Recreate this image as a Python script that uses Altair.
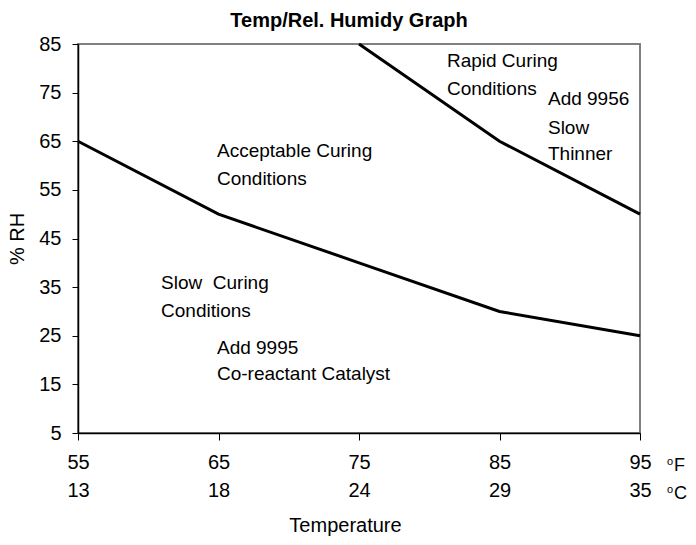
import altair as alt
import pandas as pd

# ---- data ----
temp_f = [55, 65, 75, 85, 95]
temp_c = [13, 18, 24, 29, 35]
lower_rh = [65, 50, 40, 30, 25]
upper_temp = [75, 85, 95]
upper_rh = [85, 65, 50]
y_ticks = [5, 15, 25, 35, 45, 55, 65, 75, 85]

note_text = ["Rapid Curing", "Conditions", "Add 9956", "Slow", "Thinner",
             "Acceptable Curing", "Conditions", "Slow\u00a0 Curing", "Conditions",
             "Add 9995", "Co-reactant Catalyst"]
note_x = [81.26, 81.26, 88.45, 88.45, 88.45, 64.89, 64.89, 60.91, 60.91, 64.89, 64.89]
note_y = [80.27, 74.51, 72.45, 66.49, 61.14, 61.76, 56.0, 34.61, 28.86, 21.25, 15.9]

unit_letters = ["F", "C"]

FONT = "Liberation Sans"

lines_df = pd.DataFrame(
    {"temp": temp_f + upper_temp,
     "rh": lower_rh + upper_rh,
     "series": ["lower"] * len(temp_f) + ["upper"] * len(upper_temp)}
)
notes_df = pd.DataFrame({"x": note_x, "y": note_y, "t": note_text})
unit_f = pd.DataFrame({"x": [temp_f[-1]], "y": [y_ticks[0]], "u": [unit_letters[0]]})
unit_c = pd.DataFrame({"x": [temp_f[-1]], "y": [y_ticks[0]], "u": [unit_letters[1]]})

label_expr = " : ".join(
    f"datum.value == {f} ? ['{f}', '{c}']" for f, c in zip(temp_f, temp_c)
) + " : datum.label"

xs = alt.Scale(domain=[55, 95], nice=False, zero=False)
ys = alt.Scale(domain=[5, 85], nice=False, zero=False)

x_axis = alt.Axis(values=temp_f, tickSize=7, labelPadding=12, labelLineHeight=28,
                  labelExpr=label_expr, labelOverlap=False, labelFlush=False,
                  title="Temperature", titlePadding=15, titleX=267, titleAnchor="middle",
                  grid=False)
y_axis = alt.Axis(values=y_ticks, tickSize=6, labelPadding=11, title="% RH",
                  titlePadding=11, grid=False, labelOverlap=False, labelFlush=False)

lines = alt.Chart(lines_df).mark_line(color="black", strokeWidth=3).encode(
    x=alt.X("temp:Q", scale=xs, axis=x_axis),
    y=alt.Y("rh:Q", scale=ys, axis=y_axis),
    detail="series:N",
)

notes = alt.Chart(notes_df).mark_text(
    align="left", baseline="alphabetic", font=FONT, fontSize=19, color="black"
).encode(x=alt.X("x:Q", scale=xs), y=alt.Y("y:Q", scale=ys), text="t:N")


def unit_layer(df, dy):
    big = alt.Chart(df).mark_text(
        align="left", baseline="alphabetic", font=FONT, fontSize=18, color="black",
        dx=34, dy=dy
    ).encode(x=alt.X("x:Q", scale=xs), y=alt.Y("y:Q", scale=ys), text="u:N")
    small = alt.Chart(df).mark_text(
        align="left", baseline="alphabetic", font=FONT, fontSize=11, color="black",
        dx=27, dy=dy - 6
    ).encode(x=alt.X("x:Q", scale=xs), y=alt.Y("y:Q", scale=ys), text=alt.value("o"))
    return [big, small]


chart = alt.layer(lines, notes, *unit_layer(unit_f, 38), *unit_layer(unit_c, 66)).properties(
    width=562, height=389,
    title=alt.TitleParams("Temp/Rel. Humidy Graph", font=FONT, fontSize=20,
                          fontWeight="bold", anchor="middle", frame="group",
                          offset=3, dx=-10, color="black"),
    autosize=alt.AutoSizeParams(type="none"),
    padding={"left": 70, "top": 36, "right": 48, "bottom": 104},
).configure_view(stroke="#808080", strokeWidth=2).configure_axis(
    domainColor="black", tickColor="black", labelColor="black", titleColor="black",
    labelFont=FONT, titleFont=FONT, labelFontSize=20, titleFontSize=20,
    titleFontWeight="normal", domainWidth=1.5, tickWidth=1,
)

chart.save("out.html", embed_options={"renderer": "svg", "actions": False})
